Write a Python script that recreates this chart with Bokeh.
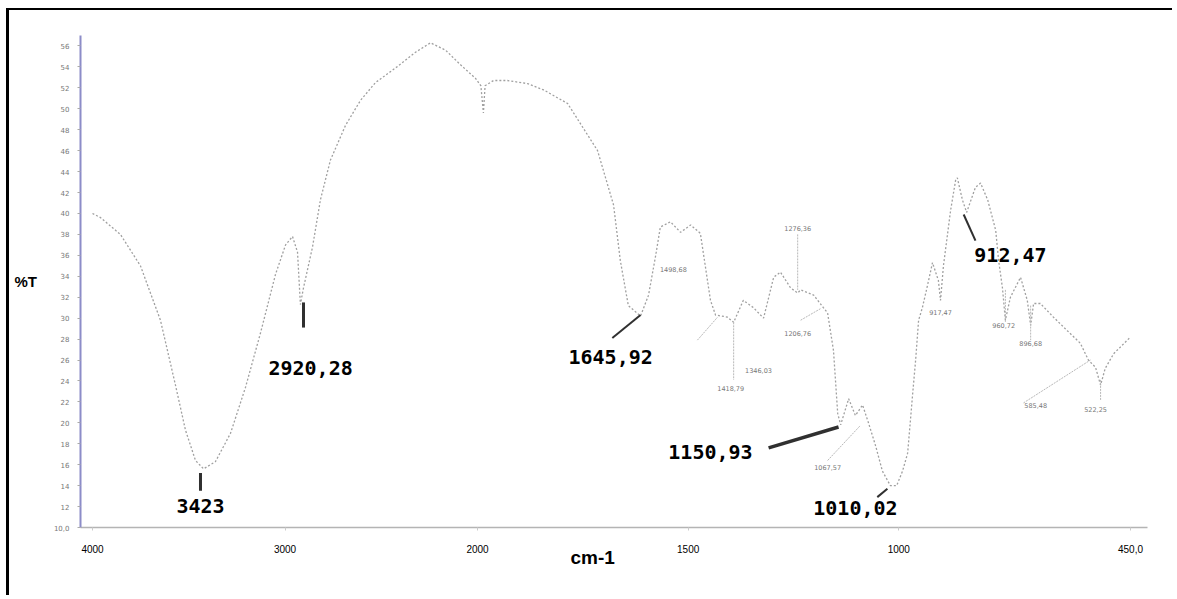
from bokeh.plotting import figure
from bokeh.models import Range1d, FixedTicker, Title
from bokeh.core.properties import value
from bokeh.embed import file_html
from bokeh.resources import INLINE

# ---------------- data ----------------
wavenumber = [4000, 3958, 3855, 3751, 3647, 3569, 3517, 3465, 3423, 3361, 3283, 3205,
              3127, 3049, 2997, 2961, 2935, 2920, 2905, 2857, 2816, 2764, 2686, 2608,
              2530, 2426, 2322, 2244, 2166, 2088, 2010, 1992, 1986, 1982, 1962, 1929,
              1881, 1843, 1786, 1715, 1677, 1661, 1642, 1613, 1594, 1577, 1566, 1542,
              1518, 1494, 1471, 1447, 1435, 1407, 1392, 1369, 1345, 1321, 1297, 1281,
              1257, 1240, 1233, 1202, 1179, 1169, 1155, 1145, 1138, 1119, 1103, 1086,
              1072, 1055, 1039, 1020, 1005, 991, 979, 967, 960, 953, 944, 932, 920,
              906, 901, 894, 877, 865, 861, 849, 839, 818, 806, 789, 770, 763, 754,
              747, 735, 711, 695, 687, 680, 664, 633, 600, 569, 550, 533, 521, 510,
              490, 450]
transmittance = [40.0, 39.6, 38.0, 35.0, 29.8, 23.6, 19.3, 16.4, 15.6, 16.3, 19.0, 23.4,
                 28.6, 34.2, 37.0, 37.8, 36.3, 31.3, 32.8, 36.8, 41.3, 45.1, 48.4, 50.8,
                 52.5, 53.9, 55.4, 56.3, 55.6, 54.2, 52.9, 52.2, 49.6, 52.2, 52.7, 52.7,
                 52.4, 51.8, 50.5, 46.0, 40.8, 35.5, 31.2, 30.2, 32.2, 36.0, 38.7, 39.2,
                 38.2, 38.9, 38.1, 31.7, 30.3, 30.1, 29.6, 31.7, 31.0, 30.0, 33.9, 34.4,
                 32.9, 32.4, 32.7, 32.2, 31.0, 30.5, 26.9, 20.9, 19.8, 22.3, 20.7, 21.7,
                 20.0, 17.8, 15.4, 14.0, 14.0, 15.4, 17.1, 22.8, 26.0, 29.8, 31.0, 33.1,
                 35.3, 33.6, 31.7, 35.0, 40.3, 43.2, 43.4, 41.3, 40.1, 42.5, 42.9, 41.3,
                 38.4, 35.5, 32.9, 29.8, 32.0, 33.9, 31.7, 29.3, 31.4, 31.4, 30.1, 28.8,
                 27.6, 26.0, 25.3, 23.6, 25.2, 26.6, 28.2]

x_ticks = [4000, 3000, 2000, 1500, 1000, 450]
x_tick_labels = ["4000", "3000", "2000", "1500", "1000", "450,0"]
y_ticks = list(range(10, 57, 2))
y_tick_labels = {10: "10,0"}

# peak annotations (bold)
big_text = ["3423", "2920,28", "1645,92", "1150,93", "1010,02", "912,47"]
big_wn = [3439, 2867, 1684, 1447, 1103, 735]
big_t = [12.1, 25.2, 26.25, 17.2, 11.9, 36.0]

# peak annotations (small)
small_text = ["1498,68", "1276,36", "1418,79", "1346,03", "1206,76", "1067,57",
              "917,47", "960,72", "896,68", "585,48", "522,25"]
small_wn = [1535, 1240, 1399, 1333, 1240, 1169, 901, 751, 687, 675, 533]
small_t = [34.6, 38.6, 23.3, 25.0, 28.5, 15.7, 30.5, 29.3, 27.6, 21.7, 21.3]

# leader lines
dark_w0 = [3439, 2904, 1680, 1309, 1051, 846]
dark_t0 = [15.2, 31.5, 28.1, 17.6, 12.9, 39.9]
dark_w1 = [3439, 2904, 1613, 1143, 1027, 818]
dark_t1 = [13.5, 29.1, 30.3, 19.6, 13.7, 37.4]
dark_width = [3, 3, 2, 3.5, 2, 2]

light_w0 = [1392, 1240, 1233, 1478, 1169, 747, 687, 704, 521]
light_t0 = [29.6, 38.0, 29.8, 27.9, 16.4, 32.7, 31.2, 21.9, 24.1]
light_w1 = [1392, 1240, 1186, 1430, 1091, 747, 687, 545, 521]
light_t1 = [24.1, 32.7, 30.9, 30.1, 19.75, 29.6, 27.9, 26.0, 22.1]


# ------------- axis with a scale change at 2000 cm-1 -------------
U_4000, U_2000, U_450 = 92.0, 477.0, 1130.0


def to_u(w):
    if w >= 2000:
        return U_2000 - (w - 2000) * (U_2000 - U_4000) / 2000.0
    return U_2000 + (2000 - w) * (U_450 - U_2000) / 1550.0


def to_us(ws):
    return [to_u(w) for w in ws]


p = figure(width=1166, height=587, output_backend="svg", toolbar_location=None,
           x_range=Range1d(80, 1147), y_range=Range1d(10, 57.0),
           min_border_left=71, min_border_right=28, min_border_top=25,
           min_border_bottom=70)
p.styles = {"border-left": "3px solid black", "border-top": "2px solid black",
            "margin-left": "6px", "margin-top": "8px"}
p.outline_line_color = None
p.xgrid.visible = False
p.ygrid.visible = False
p.background_fill_color = "white"
p.border_fill_color = "white"

# x axis
xt = to_us(x_ticks)
p.xaxis.ticker = FixedTicker(ticks=xt)
p.xaxis.major_label_overrides = {u: lab for u, lab in zip(xt, x_tick_labels)}
p.xaxis.axis_line_color = "#b4b4b4"
p.xaxis.axis_line_width = 1.5
p.xaxis.major_tick_in = 0
p.xaxis.major_tick_out = 3
p.xaxis.major_tick_line_color = "#cccccc"
p.xaxis.minor_tick_line_color = None
p.xaxis.major_label_text_font = "Liberation Sans"
p.xaxis.major_label_text_font_size = "10px"
p.xaxis.major_label_text_color = "black"
p.xaxis.major_label_standoff = 14

# y axis
p.yaxis.ticker = FixedTicker(ticks=y_ticks)
p.yaxis.major_label_overrides = y_tick_labels
p.yaxis.axis_line_color = "#8c8cc8"
p.yaxis.axis_line_width = 2
p.yaxis.major_tick_in = 0
p.yaxis.major_tick_out = 3
p.yaxis.major_tick_line_color = "#aaaaaa"
p.yaxis.minor_tick_line_color = None
p.yaxis.major_label_text_font = "DejaVu Sans"
p.yaxis.major_label_text_font_size = "7px"
p.yaxis.major_label_text_color = "#777777"
p.yaxis.major_label_standoff = 8
p.yaxis.axis_label = "%T"
p.yaxis.axis_label_orientation = "horizontal"
p.yaxis.axis_label_text_font = "Liberation Sans"
p.yaxis.axis_label_text_font_style = "bold"
p.yaxis.axis_label_text_font_size = "15px"
p.yaxis.axis_label_text_color = "black"
p.yaxis.axis_label_standoff = 14

# x-axis title placed under the tick labels, left of centre
p.add_layout(Title(text="cm-1", align="left", offset=490, standoff=-21,
                   text_font="Liberation Sans", text_font_style="bold",
                   text_font_size="19px", text_color="black"), "below")

# spectrum
p.line(to_us(wavenumber), transmittance, line_color="#a0a0a0", line_width=1.3,
       line_dash="2 2")

# leaders
p.segment(to_us(light_w0), light_t0, to_us(light_w1), light_t1,
          line_color="#b8b8b8", line_width=1, line_dash="2 1")
p.segment(to_us(dark_w0), dark_t0, to_us(dark_w1), dark_t1,
          line_color="#303030", line_width=dark_width)

# labels
p.text(to_us(small_wn), small_t, text=small_text, text_font=value("DejaVu Sans"),
       text_font_size="6.5px", text_color="#777777", text_align="center",
       text_baseline="middle")
p.text(to_us(big_wn), big_t, text=big_text, text_font=value("DejaVu Sans Mono"),
       text_font_style="bold", text_font_size="20px", text_color="black",
       text_align="center", text_baseline="middle")

open("out.html", "w").write(file_html(p, INLINE))
